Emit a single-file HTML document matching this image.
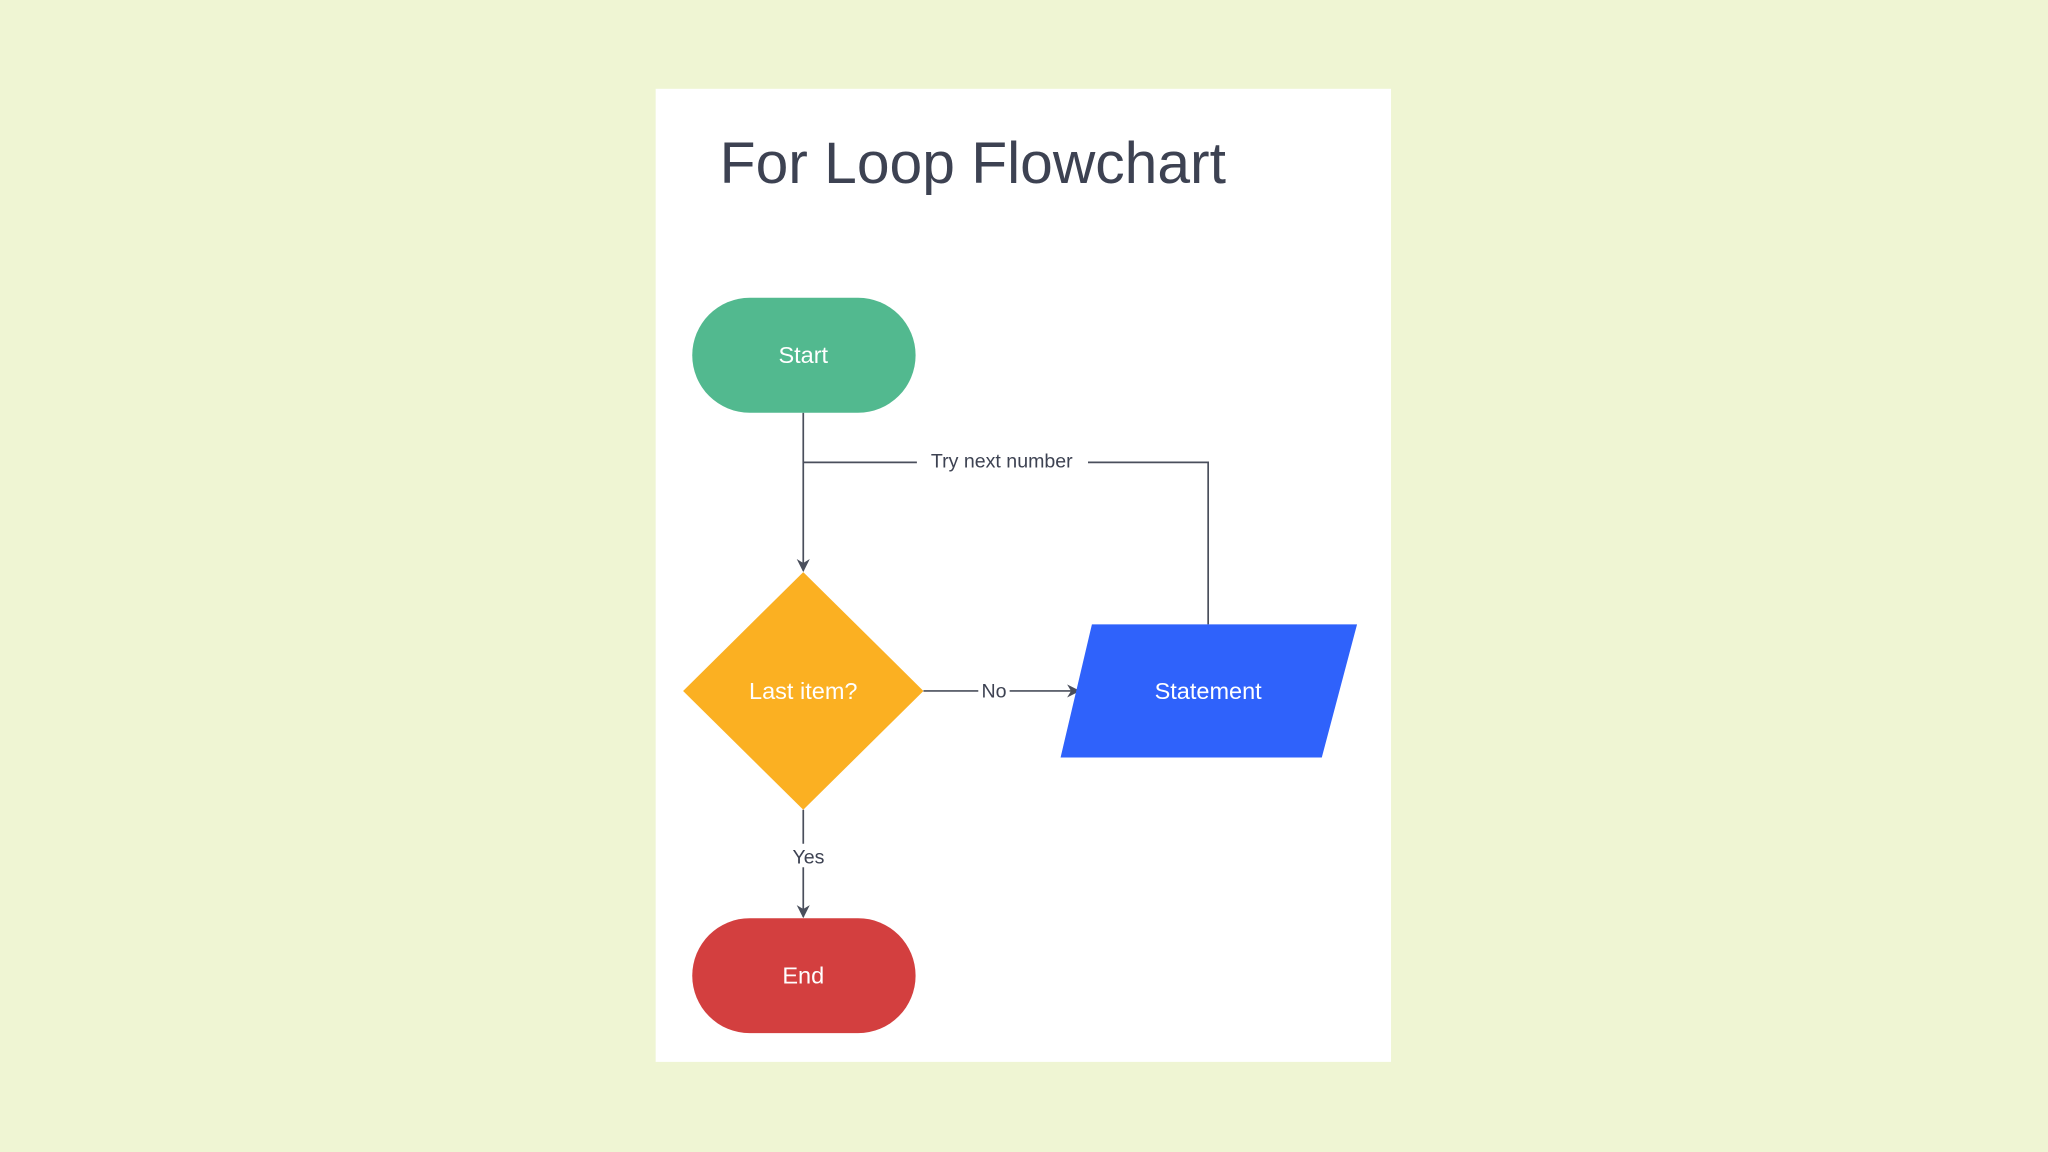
<!DOCTYPE html>
<html><head><meta charset="utf-8"><style>
html,body{margin:0;padding:0;width:2048px;height:1152px;overflow:hidden;background:#eff5d3;}
svg{display:block;}
text{font-family:"Liberation Sans",sans-serif;}
</style></head><body>
<svg width="2048" height="1152" viewBox="0 0 1568 882" xmlns="http://www.w3.org/2000/svg">
<defs><marker id="a" markerWidth="10" markerHeight="10" refX="9" refY="5" orient="auto" markerUnits="userSpaceOnUse"><path d="M0,0 L10,5 L0,10 L3,5 Z" fill="#4a4f5c"/></marker></defs>
<rect width="1568" height="882" fill="#eff5d3"/>
<rect x="502" y="68" width="563" height="745" fill="#ffffff"/>
<text x="551" y="140" font-size="45" fill="#3d4252">For Loop Flowchart</text>
<g stroke="#4a4f5c" stroke-width="1.3" fill="none">
<line x1="615" y1="316" x2="615" y2="437" marker-end="url(#a)"/>
<polyline points="615,354 925,354 925,478"/>
<line x1="707" y1="529" x2="826" y2="529" marker-end="url(#a)"/>
<line x1="615" y1="620" x2="615" y2="702" marker-end="url(#a)"/>
</g>
<rect x="702" y="344" width="131" height="18" fill="#fff"/>
<text x="767" y="358" font-size="15" fill="#3d4252" text-anchor="middle">Try next number</text>
<rect x="749" y="520" width="24" height="18" fill="#fff"/>
<text x="761" y="534" font-size="15" fill="#3d4252" text-anchor="middle">No</text>
<rect x="603" y="646" width="32" height="18" fill="#fff"/>
<text x="619" y="661" font-size="15" fill="#3d4252" text-anchor="middle">Yes</text>
<rect x="530" y="228" width="171" height="88" rx="44" fill="#52b98f"/>
<text x="615" y="278" font-size="18" fill="#fff" text-anchor="middle">Start</text>
<polygon points="615,438 707,529 615,620 523,529" fill="#fbb022"/>
<text x="615" y="535" font-size="18" fill="#fff" text-anchor="middle">Last item?</text>
<polygon points="836,478 1039,478 1012,580 812,580" fill="#2f62fb"/>
<text x="925" y="535" font-size="18" fill="#fff" text-anchor="middle">Statement</text>
<rect x="530" y="703" width="171" height="88" rx="44" fill="#d33f3f"/>
<text x="615" y="753" font-size="18" fill="#fff" text-anchor="middle">End</text>
</svg>
</body></html>
